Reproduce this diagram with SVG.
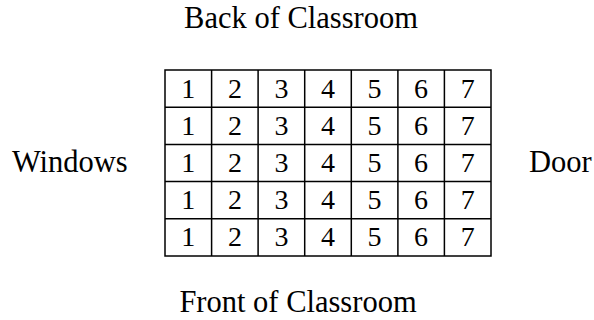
<svg xmlns="http://www.w3.org/2000/svg" width="594" height="320" viewBox="0 0 594 320">
<style>
.lbl{font-family:"Liberation Serif","Times New Roman",serif;font-size:30.5px;fill:#000;}
.num{font-family:"Liberation Serif","Times New Roman",serif;font-size:28px;fill:#000;text-anchor:middle;}
.grid{stroke:#000;stroke-width:1.5;fill:none;}
</style>
<rect width="594" height="320" fill="#fff"/>
<g id="back"><text class="lbl" x="301" y="28" text-anchor="middle">Back of Classroom</text></g>
<g id="front"><text class="lbl" x="298" y="312" text-anchor="middle">Front of Classroom</text></g>
<g id="windows"><text class="lbl" x="12" y="172">Windows</text></g>
<g id="door"><text class="lbl" x="529" y="172">Door</text></g>
<g id="grid" class="grid">
<rect x="165" y="70" width="326" height="186"/>
<path d="M165 107.2H491M165 144.4H491M165 181.6H491M165 218.8H491"/>
<path d="M211.6 70V256M258.1 70V256M304.7 70V256M351.3 70V256M397.9 70V256M444.4 70V256"/>
</g>
<g id="seats">
<g id="row1"><text class="num" x="188.3" y="97.6">1</text><text class="num" x="234.9" y="97.6">2</text><text class="num" x="281.4" y="97.6">3</text><text class="num" x="328" y="97.6">4</text><text class="num" x="374.6" y="97.6">5</text><text class="num" x="421.1" y="97.6">6</text><text class="num" x="467.7" y="97.6">7</text></g>
<g id="row2"><text class="num" x="188.3" y="134.8">1</text><text class="num" x="234.9" y="134.8">2</text><text class="num" x="281.4" y="134.8">3</text><text class="num" x="328" y="134.8">4</text><text class="num" x="374.6" y="134.8">5</text><text class="num" x="421.1" y="134.8">6</text><text class="num" x="467.7" y="134.8">7</text></g>
<g id="row3"><text class="num" x="188.3" y="172">1</text><text class="num" x="234.9" y="172">2</text><text class="num" x="281.4" y="172">3</text><text class="num" x="328" y="172">4</text><text class="num" x="374.6" y="172">5</text><text class="num" x="421.1" y="172">6</text><text class="num" x="467.7" y="172">7</text></g>
<g id="row4"><text class="num" x="188.3" y="209.2">1</text><text class="num" x="234.9" y="209.2">2</text><text class="num" x="281.4" y="209.2">3</text><text class="num" x="328" y="209.2">4</text><text class="num" x="374.6" y="209.2">5</text><text class="num" x="421.1" y="209.2">6</text><text class="num" x="467.7" y="209.2">7</text></g>
<g id="row5"><text class="num" x="188.3" y="246.4">1</text><text class="num" x="234.9" y="246.4">2</text><text class="num" x="281.4" y="246.4">3</text><text class="num" x="328" y="246.4">4</text><text class="num" x="374.6" y="246.4">5</text><text class="num" x="421.1" y="246.4">6</text><text class="num" x="467.7" y="246.4">7</text></g>
</g>
</svg>
